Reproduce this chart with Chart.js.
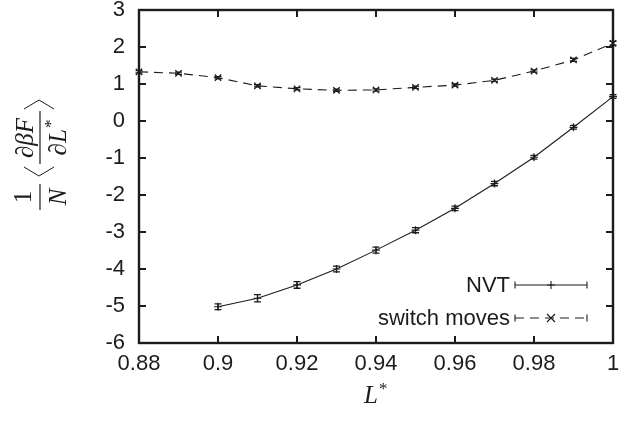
<!DOCTYPE html>
<html>
<head>
<meta charset="utf-8">
<script src="https://cdn.jsdelivr.net/npm/chart.js@4/dist/chart.umd.min.js"></script>
<style>
  html, body { margin: 0; padding: 0; background: #fff; }
  #wrap { width: 619px; height: 426px; position: relative; }
</style>
</head>
<body>
<div id="wrap"><canvas id="c" width="619" height="426"></canvas></div>
<script>
// Reduced box length L* and mean free-energy derivative (1/N)<d(beta F)/dL*>
const nvtL = [0.90, 0.91, 0.92, 0.93, 0.94, 0.95, 0.96, 0.97, 0.98, 0.99, 1.00];
const nvtF = [-5.02, -4.79, -4.43, -4.00, -3.49, -2.95, -2.36, -1.69, -0.98, -0.17, 0.66];
const nvtErr = [0.08, 0.10, 0.09, 0.08, 0.08, 0.07, 0.06, 0.06, 0.05, 0.05, 0.05];

const switchL = [0.88, 0.89, 0.90, 0.91, 0.92, 0.93, 0.94, 0.95, 0.96, 0.97, 0.98, 0.99, 1.00];
const switchF = [1.33, 1.29, 1.17, 0.95, 0.87, 0.83, 0.84, 0.91, 0.97, 1.10, 1.35, 1.65, 2.10];
const switchErr = [0.03, 0.03, 0.03, 0.03, 0.03, 0.03, 0.03, 0.03, 0.03, 0.03, 0.03, 0.04, 0.05];

const xTicks = [0.88, 0.90, 0.92, 0.94, 0.96, 0.98, 1.00];
const yTicks = [-6, -5, -4, -3, -2, -1, 0, 1, 2, 3];

const seriesNames = ['NVT', 'switch moves'];

const INK = '#1c1c1c';
const SANS = '"Liberation Sans", Arial, Helvetica, sans-serif';
const SERIF = '"Liberation Serif", "Times New Roman", serif';

function pairs(xs, ys) { return xs.map((x, i) => ({ x: x, y: ys[i] })); }

// Error bars, drawn from each dataset's errors through the scales
const errorBars = {
  id: 'errorBars',
  afterDatasetsDraw(chart) {
    const ctx = chart.ctx, ys = chart.scales.y, xs = chart.scales.x;
    chart.data.datasets.forEach((ds) => {
      if (!ds.errors) return;
      ctx.save();
      ctx.strokeStyle = INK;
      ctx.lineWidth = 1.3;
      ds.data.forEach((p, i) => {
        const px = xs.getPixelForValue(p.x);
        const top = ys.getPixelForValue(p.y + ds.errors[i]);
        const bot = ys.getPixelForValue(p.y - ds.errors[i]);
        ctx.beginPath();
        ctx.moveTo(px, top); ctx.lineTo(px, bot);
        ctx.moveTo(px - 3.5, top); ctx.lineTo(px + 3.5, top);
        ctx.moveTo(px - 3.5, bot); ctx.lineTo(px + 3.5, bot);
        ctx.stroke();
      });
      ctx.restore();
    });
  }
};

// Plot frame with inward ticks on all four sides
const frame = {
  id: 'frame',
  beforeDatasetsDraw(chart) {
    const ctx = chart.ctx, a = chart.chartArea;
    const xs = chart.scales.x, ys = chart.scales.y;
    const len = 7;
    ctx.save();
    ctx.strokeStyle = INK;
    ctx.lineWidth = 2;
    ctx.beginPath();
    xs.ticks.forEach(t => {
      const px = xs.getPixelForValue(t.value);
      ctx.moveTo(px, a.bottom); ctx.lineTo(px, a.bottom - len);
      ctx.moveTo(px, a.top); ctx.lineTo(px, a.top + len);
    });
    ys.ticks.forEach(t => {
      const py = ys.getPixelForValue(t.value);
      ctx.moveTo(a.left, py); ctx.lineTo(a.left + len, py);
      ctx.moveTo(a.right, py); ctx.lineTo(a.right - len, py);
    });
    ctx.stroke();
    ctx.lineWidth = 2.4;
    ctx.strokeRect(a.left, a.top, a.right - a.left, a.bottom - a.top);
    ctx.restore();
  }
};

// Legend at the lower right of the plot: label, sample line with end caps, marker
const keyBox = {
  id: 'keyBox',
  afterDraw(chart) {
    const ctx = chart.ctx;
    const textRight = 510, x0 = 515, x1 = 587, rows = [285, 318];
    ctx.save();
    ctx.font = '22px ' + SANS;
    ctx.fillStyle = INK;
    ctx.strokeStyle = INK;
    ctx.textAlign = 'right';
    ctx.textBaseline = 'middle';
    chart.data.datasets.forEach((ds, i) => {
      const y = rows[i];
      ctx.fillText(seriesNames[i], textRight, y + 1);
      ctx.lineWidth = 1.1;
      ctx.setLineDash(ds.borderDash || []);
      ctx.beginPath(); ctx.moveTo(x0, y); ctx.lineTo(x1, y); ctx.stroke();
      ctx.setLineDash([]);
      ctx.beginPath();
      ctx.moveTo(x0, y - 3.5); ctx.lineTo(x0, y + 3.5);
      ctx.moveTo(x1, y - 3.5); ctx.lineTo(x1, y + 3.5);
      const cx = (x0 + x1) / 2, r = 4;
      if (ds.pointStyle === 'cross') {
        ctx.moveTo(cx - r, y); ctx.lineTo(cx + r, y);
        ctx.moveTo(cx, y - r); ctx.lineTo(cx, y + r);
      } else {
        ctx.moveTo(cx - r, y - r); ctx.lineTo(cx + r, y + r);
        ctx.moveTo(cx - r, y + r); ctx.lineTo(cx + r, y - r);
      }
      ctx.stroke();
    });
    ctx.restore();
  }
};

// Axis titles set as math: L* below, (1/N)<d(beta F)/dL*> rotated on the left
const axisTitles = {
  id: 'axisTitles',
  afterDraw(chart) {
    const ctx = chart.ctx;
    ctx.save();
    ctx.fillStyle = INK;
    ctx.strokeStyle = INK;

    // x title
    ctx.font = 'italic 25px ' + SERIF;
    ctx.textBaseline = 'alphabetic';
    ctx.textAlign = 'left';
    const lw = ctx.measureText('L').width;
    const xc = 375, xb = 403;
    ctx.fillText('L', xc - (lw + 8) / 2, xb);
    ctx.font = '17px ' + SERIF;
    ctx.fillText('*', xc - (lw + 8) / 2 + lw + 1, xb - 9);

    // y title, rotated
    ctx.translate(40, 155);
    ctx.rotate(-Math.PI / 2);
    const centered = (txt, font, cx, base) => {
      ctx.font = font;
      const w = ctx.measureText(txt).width;
      ctx.fillText(txt, cx - w / 2, base);
    };
    ctx.lineWidth = 1.2;
    // 1/N
    centered('1', '25px ' + SERIF, -42, -9);
    centered('N', 'italic 25px ' + SERIF, -42, 26);
    ctx.beginPath(); ctx.moveTo(-55, 0); ctx.lineTo(-29, 0); ctx.stroke();
    // angle brackets
    ctx.lineWidth = 1;
    ctx.beginPath();
    ctx.moveTo(-12, -16); ctx.lineTo(-21, -1); ctx.lineTo(-12, 14);
    ctx.moveTo(46, -16); ctx.lineTo(55, -1); ctx.lineTo(46, 14);
    ctx.stroke();
    // d(beta F) / dL*
    ctx.font = 'italic 25px ' + SERIF;
    const num = '\u2202\u03B2F';
    const nw = ctx.measureText(num).width;
    ctx.fillText(num, 17 - nw / 2, -7);
    const dl = '\u2202L';
    const dw = ctx.measureText(dl).width;
    ctx.font = '17px ' + SERIF;
    const sw = ctx.measureText('*').width;
    const start = 17 - (dw + sw) / 2;
    ctx.font = 'italic 25px ' + SERIF;
    ctx.fillText(dl, start, 26);
    ctx.font = '17px ' + SERIF;
    ctx.fillText('*', start + dw + 1, 16);
    ctx.lineWidth = 1.2;
    ctx.beginPath(); ctx.moveTo(-9, 0); ctx.lineTo(44, 0); ctx.stroke();
    ctx.restore();
  }
};

const tickFont = { family: SANS, size: 22 };

new Chart(document.getElementById('c'), {
  type: 'line',
  data: {
    datasets: [
      {
        label: seriesNames[0],
        data: pairs(nvtL, nvtF),
        errors: nvtErr,
        borderColor: INK,
        borderWidth: 1.1,
        pointStyle: 'cross',
        pointRadius: 4,
        pointBorderWidth: 1.2,
        pointBorderColor: INK,
        pointBackgroundColor: INK,
        tension: 0,
        clip: false
      },
      {
        label: seriesNames[1],
        data: pairs(switchL, switchF),
        errors: switchErr,
        borderColor: INK,
        borderWidth: 1.1,
        borderDash: [9, 6],
        pointStyle: 'crossRot',
        pointRadius: 4.5,
        pointBorderWidth: 1.3,
        pointBorderColor: INK,
        pointBackgroundColor: INK,
        tension: 0,
        clip: false
      }
    ]
  },
  options: {
    responsive: false,
    animation: false,
    events: [],
    layout: { padding: { top: 10, right: 6, left: 0, bottom: 0 } },
    plugins: { legend: { display: false }, tooltip: { enabled: false } },
    scales: {
      x: {
        type: 'linear',
        min: 0.88,
        max: 1.0,
        afterBuildTicks(scale) { scale.ticks = xTicks.map(v => ({ value: v })); },
        afterFit(scale) {
          scale.height = 83;
          scale.paddingLeft = 0; scale.paddingRight = 0;
        },
        ticks: {
          font: tickFont,
          color: INK,
          padding: 8,
          maxRotation: 0,
          autoSkip: false,
          callback: v => String(Number(v.toFixed(2)))
        },
        grid: { display: false, drawTicks: false },
        border: { display: false }
      },
      y: {
        type: 'linear',
        min: -6,
        max: 3,
        afterBuildTicks(scale) { scale.ticks = yTicks.map(v => ({ value: v })); },
        afterFit(scale) {
          scale.width = 139;
          scale.paddingTop = 0; scale.paddingBottom = 0;
        },
        ticks: {
          font: tickFont,
          color: INK,
          padding: 14,
          autoSkip: false,
          callback: v => String(v)
        },
        grid: { display: false, drawTicks: false },
        border: { display: false }
      }
    }
  },
  plugins: [frame, errorBars, keyBox, axisTitles]
});
</script>
</body>
</html>
